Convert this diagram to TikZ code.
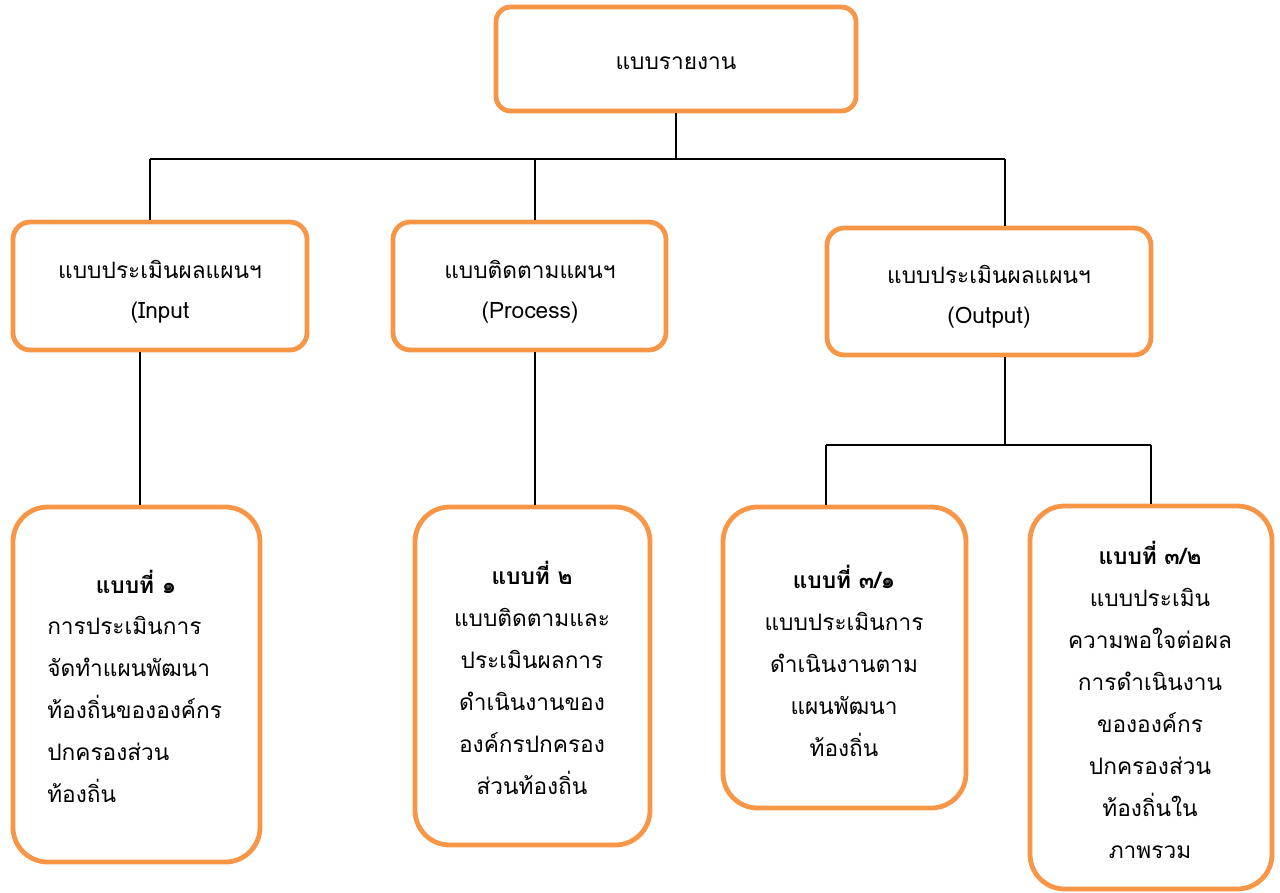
\documentclass[tikz,border=0pt]{standalone}
\usepackage{fontspec}
\newfontfamily\thai[Script=Thai]{Loma}
\definecolor{boxor}{HTML}{F79646}
\begin{document}
\begin{tikzpicture}[x=0.75pt,y=-0.75pt,
  box/.style={draw=boxor, line width=3.6pt, fill=white, inner sep=0pt},
  lvl/.style={box, rounded corners=13pt},
  big/.style={box, rounded corners=26pt},
  ltxt/.style={inner sep=0pt, align=center, font=\thai\fontsize{17}{30}\selectfont},
  txt/.style={inner sep=0pt, font=\thai\fontsize{17}{31.5}\selectfont},
  con/.style={draw=black, line width=1.1pt}]
\useasboundingbox (0,0) rectangle (1280,892);
% boxes
\node[lvl, rounded corners=11pt, minimum width=270pt, minimum height=78pt] (top) at (676,59) {};
\node[lvl, minimum width=220.5pt, minimum height=96pt] (L1) at (160,286) {};
\node[lvl, minimum width=204.75pt, minimum height=96pt] (L2) at (529.5,286) {};
\node[lvl, minimum width=243pt, minimum height=95.25pt] (L3) at (989,291.5) {};
\node[big, minimum width=185.25pt, minimum height=266.25pt] (B1) at (136.5,684.5) {};
\node[big, minimum width=176.25pt, minimum height=253.5pt] (B2) at (532.5,676) {};
\node[big, minimum width=182.25pt, minimum height=225.75pt] (B3) at (844.5,657.5) {};
\node[big, minimum width=181.5pt, minimum height=287.25pt] (B4) at (1151,697.5) {};
% texts
\node[ltxt] (t0) at (676,63.5) {แบบรายงาน};
\node[ltxt] (tL1) at (160,292) {แบบประเมินผลแผนฯ\\(Input};
\node[ltxt] (tL2) at (530,292) {แบบติดตามแผนฯ\\(Process)};
\node[ltxt] (tL3) at (989,297) {แบบประเมินผลแผนฯ\\(Output)};
\node[txt] (t1h) at (136,582) {\bfseries แบบที่ ๑};
\node[txt, anchor=west, align=left] (t1) at (47,709) {การประเมินการ\\จัดทำแผนพัฒนา\\ท้องถิ่นขององค์กร\\ปกครองส่วน\\ท้องถิ่น};
\node[txt, align=center] (t2) at (532,678) {{\bfseries แบบที่ ๒}\\แบบติดตามและ\\ประเมินผลการ\\ดำเนินงานของ\\องค์กรปกครอง\\ส่วนท้องถิ่น};
\node[txt, align=center] (t3) at (844,661) {{\bfseries แบบที่ ๓/๑}\\แบบประเมินการ\\ดำเนินงานตาม\\แผนพัฒนา\\ท้องถิ่น};
\node[txt, align=center] (t4) at (1150,699.5) {{\bfseries แบบที่ ๓/๒}\\แบบประเมิน\\ความพอใจต่อผล\\การดำเนินงาน\\ขององค์กร\\ปกครองส่วน\\ท้องถิ่นใน\\ภาพรวม};
% connector coordinates
\coordinate (bus) at (676,159);
\coordinate (xa) at (150,159);
\coordinate (xb) at (535,159);
\coordinate (xc) at (1005,159);
\coordinate (x1) at (140,0);
\coordinate (bus2) at (1005,445);
\coordinate (x3) at (826,445);
\coordinate (x4) at (1151,445);
% connectors
\draw[con] (top.south) -- (bus);
\draw[con] (xa) -- (xc);
\draw[con] (xa) -- (xa |- L1.north);
\draw[con] (xb) -- (xb |- L2.north);
\draw[con] (xc) -- (xc |- L3.north);
\draw[con] (L1.south -| x1) -- (B1.north -| x1);
\draw[con] (L2.south -| xb) -- (B2.north -| xb);
\draw[con] (L3.south -| bus2) -- (bus2);
\draw[con] (x3) -- (x4);
\draw[con] (x3) -- (x3 |- B3.north);
\draw[con] (x4) -- (B4.north);
\end{tikzpicture}
\end{document}
